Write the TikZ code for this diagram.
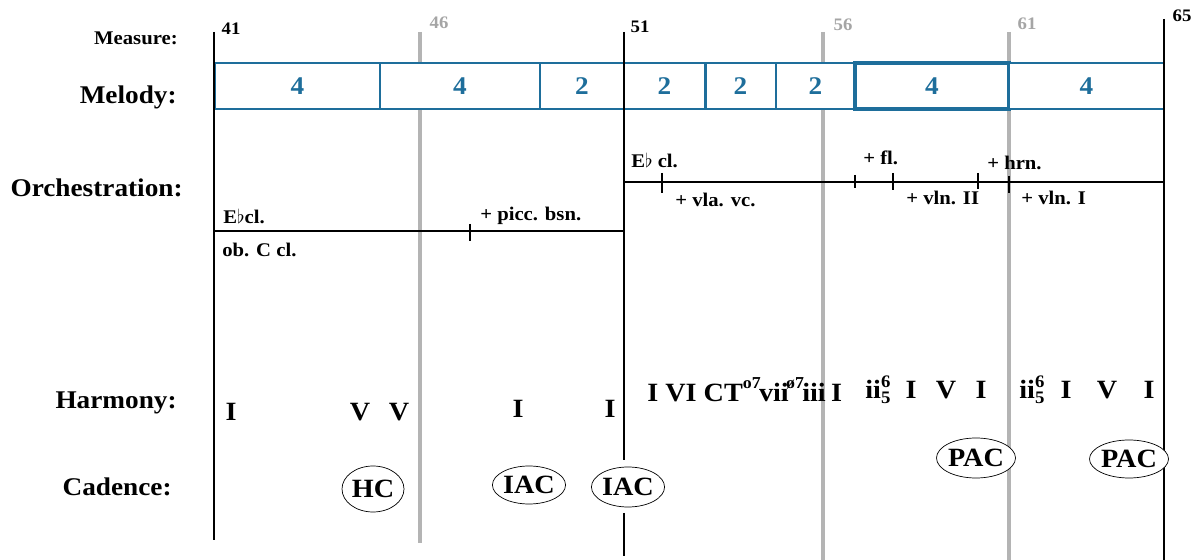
\documentclass[tikz,border=0pt]{standalone}
\usepackage{fontspec}
\setmainfont[FakeStretch=1.07]{Liberation Serif}
\usetikzlibrary{shapes.geometric}
\definecolor{melblue}{RGB}{30,110,155}
\definecolor{bargrey}{RGB}{180,180,180}
\definecolor{numgrey}{RGB}{165,165,165}
\newcommand{\blackbar}[4]{\draw[line width=#4] (#1,#2) -- (#1,#3)}
\newcommand{\greybar}[3]{\draw[greyline] (#1,#2) -- (#1,#3)}
\newcommand{\phrase}[5]{\draw[melbox,#5] (#1,63) rectangle node[meltext] (#4) {#3} (#2,109)}
\newcommand{\orchtick}[3]{\draw[orchline] (#1,#2) -- (#1,#3)}
\newcommand{\cad}[5]{\node[cadence, minimum width=#3, minimum height=#4] (#1) at (#2) {#5}}
\newcommand{\figbass}[2]{{\fontsize{10}{10}\selectfont
	\rlap{\raisebox{0.62em}{#1}}\raisebox{-0.3em}{#2}}}
\newcommand{\chordsup}[1]{\raisebox{0.5em}{\fontsize{9.5}{10}\selectfont #1}}

\begin{document}
\begin{tikzpicture}[x=0.02cm, y=-0.02cm,
	rowlabel/.style={anchor=east, inner sep=0pt, font=\fontsize{14.5}{17}\selectfont\bfseries},
	barnum/.style={font=\fontsize{10}{12}\selectfont\bfseries},
	greynum/.style={barnum, text=numgrey},
	greyline/.style={line width=2.2pt, color=bargrey},
	melbox/.style={draw=melblue, fill=white, line width=1.3pt},
	meltext/.style={text=melblue, font=\fontsize{14.5}{17}\selectfont\bfseries},
	orchline/.style={line width=1.3pt},
	instr/.style={anchor=west, inner sep=0pt, font=\fontsize{11}{13}\selectfont\bfseries},
	chord/.style={font=\fontsize{15}{18}\selectfont\bfseries},
	cadence/.style={ellipse, draw, thin, fill=white, inner sep=0pt,
		font=\fontsize{15}{18}\selectfont\bfseries}]
	\useasboundingbox (0,0) rectangle (1204,560);
%Row labels
	\node[rowlabel, font=\fontsize{11}{13}\selectfont\bfseries] (measure) at (178,38) {Measure:};
	\node[rowlabel] (melody) at (177,97) {Melody:};
	\node[rowlabel] (orch) at (183,188) {Orchestration:};
	\node[rowlabel] (harmony) at (177,403) {Harmony:};
	\node[rowlabel] (cadence) at (172,487) {Cadence:};
%Grey bar lines
	\greybar{420}{32}{543};
	\greybar{823}{32}{560};
	\greybar{1009}{32}{560};
%Melody phrases
	\phrase{215}{380}{4}{p1}{};
	\phrase{380}{540}{4}{p2}{};
	\phrase{540}{624}{2}{p3}{};
	\phrase{624}{705}{2}{p4}{};
	\phrase{705}{776}{2}{p5}{line width=1.7pt};
	\phrase{776}{855}{2}{p6}{};
	\phrase{855}{1009}{4}{p7}{line width=1.8pt};
	\phrase{1009}{1164}{4}{p8}{};
%Black bar lines
	\blackbar{214}{32}{540}{1.7pt};
	\blackbar{624}{32}{460}{1.7pt};
	\blackbar{624}{513}{556}{1.5pt};
	\blackbar{1164}{19}{560}{1.1pt};
%Measure numbers
	\node[barnum] (n41) at (231,29) {41};
	\node[greynum] (n46) at (439,23) {46};
	\node[barnum] (n51) at (640,27) {51};
	\node[greynum] (n56) at (843,25) {56};
	\node[greynum] (n61) at (1027,24) {61};
	\node[barnum] (n65) at (1182,16) {65};
%Orchestration, first half
	\draw[orchline] (214,231) -- (624,231);
	\orchtick{470}{224}{241};
	\node[instr] (ebcl1) at (223,216) {E$\flat$cl.};
	\node[instr] (oboe) at (222,250) {ob. C cl.};
	\node[instr] (picc) at (480,216) {+ picc. bsn.};
%Orchestration, second half
	\draw[orchline] (624,182) -- (1164,182);
	\orchtick{662}{173}{193};
	\orchtick{855}{175}{188};
	\orchtick{893}{173}{190};
	\orchtick{978}{173}{189};
	\orchtick{1009}{176}{193};
	\node[instr] (ebcl2) at (631,160) {E$\flat$ cl.};
	\node[instr] (vla) at (675,200) {+ vla. vc.};
	\node[instr] (fl) at (863,158) {+ fl.};
	\node[instr] (hrn) at (987,163) {+ hrn.};
	\node[instr] (vln2) at (906,198) {+ vln. II};
	\node[instr] (vln1) at (1021,198) {+ vln. I};
%Harmony
	\node[chord] (h1) at (231,412) {I};
	\node[chord] (h2) at (360,412) {V};
	\node[chord] (h3) at (399,412) {V};
	\node[chord] (h4) at (518,409) {I};
	\node[chord] (h5) at (610,409) {I};
	\node[chord, anchor=west, inner sep=0pt] (h6) at (647,390)
		{I VI CT\chordsup{o7}\kern-1pt vii\kern-1.5pt\chordsup{ø7}\kern-1pt iii\kern-1pt\ I};
	\node[chord, anchor=west, inner sep=0pt] (h7) at (865,390) {ii\figbass{6}{5}};
	\node[chord] (h8) at (911,390) {I};
	\node[chord] (h9) at (946,390) {V};
	\node[chord] (h10) at (981,390) {I};
	\node[chord, anchor=west, inner sep=0pt] (h11) at (1019,390) {ii\figbass{6}{5}};
	\node[chord] (h12) at (1066,390) {I};
	\node[chord] (h13) at (1107,390) {V};
	\node[chord] (h14) at (1149,390) {I};
%Cadences
	\cad{hc}{373,489}{1.24cm}{0.92cm}{HC};
	\cad{iac1}{529,485}{1.28cm}{0.76cm}{IAC};
	\cad{iac2}{628,487}{1.28cm}{0.8cm}{IAC};
	\cad{pac1}{976,458}{1.44cm}{0.8cm}{PAC};
	\cad{pac2}{1129,459}{1.32cm}{0.76cm}{PAC};
\end{tikzpicture}
\end{document}
